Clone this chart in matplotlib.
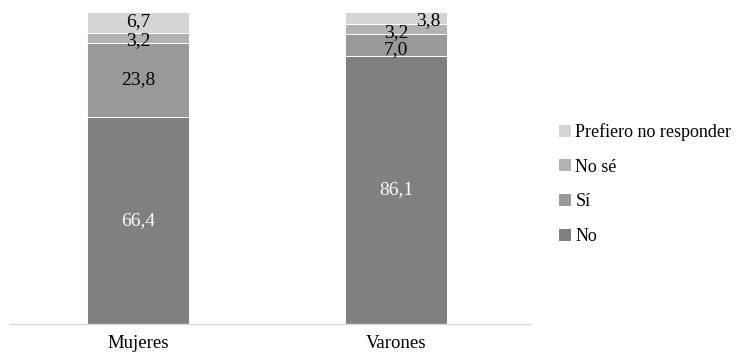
import matplotlib
matplotlib.use("Agg")
import matplotlib.pyplot as plt
from matplotlib.patches import Patch

plt.rcParams['font.family'] = ['Liberation Serif', 'DejaVu Serif']

categories = ["Mujeres", "Varones"]
series_names = ["No", "Sí", "No sé", "Prefiero no responder"]
values_no = [66.4, 86.1]
values_si = [23.8, 7.0]
values_nose = [3.2, 3.2]
values_pref = [6.7, 3.8]
labels_no = ["66,4", "86,1"]
labels_si = ["23,8", "7,0"]
labels_nose = ["3,2", "3,2"]
labels_pref = ["6,7", "3,8"]

colors = ["#808080", "#999999", "#b2b2b2", "#d4d4d4"]
label_colors = ["white", "black", "black", "black"]

fig = plt.figure(figsize=(7.44, 3.56), dpi=100)
ax = fig.add_axes([10 / 744, 1 - 324 / 356, 520 / 744, 312 / 356])

x = list(range(len(categories)))
series = [values_no, values_si, values_nose, values_pref]
texts = [labels_no, labels_si, labels_nose, labels_pref]
bottoms = [0.0] * len(categories)
width = 0.395

# small per-label nudges (x in category units, y in percent) to keep thin-segment labels readable
nudges = {
    (1, 3): (0.125, -0.8),
    (1, 2): (0.0, -1.2),
    (1, 1): (0.0, -1.5),
    (0, 3): (0.0, 0.2),
    (0, 2): (0.0, -0.9),
}

for s, (vals, labs) in enumerate(zip(series, texts)):
    ax.bar(x, vals, width=width, bottom=bottoms, color=colors[s],
           edgecolor="white", linewidth=0.7, zorder=2)
    for i, (v, lab) in enumerate(zip(vals, labs)):
        dx, dy = nudges.get((i, s), (0.0, 0.0))
        ax.text(x[i] + dx, bottoms[i] + v / 2 + dy, lab, ha="center", va="center",
                fontsize=14, color=label_colors[s], zorder=3)
    bottoms = [b + v for b, v in zip(bottoms, vals)]

ax.set_xlim(-0.496, 1.519)
ax.set_ylim(0, max(bottoms))
ax.set_yticks([])
ax.set_xticks(x)
ax.set_xticklabels(categories, fontsize=13.5)
ax.tick_params(axis="x", length=0, pad=8)
for side in ["left", "right", "top"]:
    ax.spines[side].set_visible(False)
ax.spines["bottom"].set_color("#d9d9d9")
ax.spines["bottom"].set_linewidth(1.0)

handles = [Patch(facecolor=colors[k], edgecolor="none") for k in range(3, -1, -1)]
names = [series_names[k] for k in range(3, -1, -1)]
fig.legend(handles, names, loc="upper left", bbox_to_anchor=(552 / 744, 1 - 116 / 356),
           frameon=False, fontsize=13, handlelength=0.65, handleheight=0.65,
           handletextpad=0.25, labelspacing=0.98, borderaxespad=0)

fig.savefig("out.png", dpi=100)
